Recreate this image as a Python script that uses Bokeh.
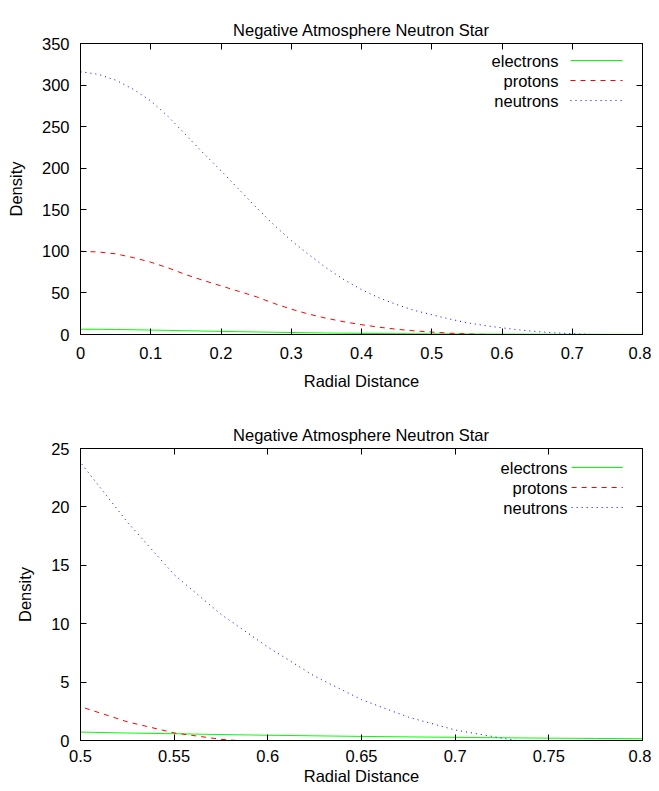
from bokeh.plotting import figure
from bokeh.layouts import column
from bokeh.models import (Range1d, LinearAxis, FixedTicker, PrintfTickFormatter,
                          CustomJSTickFormatter, Label)
from bokeh.embed import file_html
from bokeh.resources import INLINE

# ---- data ----
radius = [0.0, 0.025, 0.05, 0.075, 0.1, 0.125, 0.15, 0.175, 0.2, 0.225, 0.25,
          0.275, 0.3, 0.325, 0.35, 0.375, 0.4, 0.425, 0.45, 0.475, 0.5, 0.525,
          0.55, 0.575, 0.6, 0.625, 0.65, 0.675, 0.7, 0.725, 0.75, 0.775, 0.8]
electrons = [6.3, 6.25, 6.05, 5.75, 5.35, 4.95, 4.55, 4.15, 3.75, 3.4, 3.05,
             2.7, 2.4, 2.1, 1.82, 1.57, 1.35, 1.17, 1.0, 0.85, 0.72, 0.64,
             0.58, 0.51, 0.45, 0.4, 0.35, 0.31, 0.27, 0.235, 0.2, 0.175, 0.15]
protons = [100, 99.3, 97, 92.5, 87, 80, 72, 65, 58.5, 52, 45.5,
           37.5, 30.5, 24.5, 19.5, 15.3, 11.8, 8.8, 6.3, 4.4, 2.9, 1.6,
           0.65, 0.1, -0.2, -0.4, -0.6, -0.7, -0.8, -0.9, -1.0, -1.0, -1.0]
neutrons = [316, 313, 306, 295, 281, 262, 240, 218, 197, 175, 153,
            132, 113, 96, 80, 66, 54, 44, 36, 29, 23.8, 18.7,
            14.2, 10.8, 8.0, 5.5, 3.5, 2.0, 0.9, 0.2, -0.4, -0.8, -1.0]

series_names = ["electrons", "protons", "neutrons"]
series_colors = ["#00ff00", "#ff0000", "#0000ff"]
series_dashes = ["solid", "5 5", "1 4"]

top_xticks = [0, 0.1, 0.2, 0.3, 0.4, 0.5, 0.6, 0.7, 0.8]
top_yticks = [0, 50, 100, 150, 200, 250, 300, 350]
bot_xticks = [0.5, 0.55, 0.6, 0.65, 0.7, 0.75, 0.8]
bot_yticks = [0, 5, 10, 15, 20, 25]

title_text = "Negative Atmosphere Neutron Star"
x_label = "Radial Distance"
y_label = "Density"

FONT = "Liberation Sans"
FS = "16.5px"
WIDTH = 651
MB_RIGHT = 9


def style_axis(ax, ticks, show_labels=True):
    ax.ticker = FixedTicker(ticks=ticks)
    if show_labels:
        ax.formatter = PrintfTickFormatter(format="%g")
        ax.major_label_text_font_size = FS
    else:
        ax.formatter = CustomJSTickFormatter(code="return ''")
        ax.major_label_standoff = 0
        ax.major_label_text_font_size = "10px"
    ax.major_tick_in = 6
    ax.major_tick_out = 0
    ax.minor_tick_line_color = None
    ax.major_tick_line_color = "black"
    ax.axis_line_color = "black"
    ax.major_label_text_font = FONT
    ax.major_label_text_color = "black"
    ax.axis_label_text_font = FONT
    ax.axis_label_text_font_size = FS
    ax.axis_label_text_font_style = "normal"
    ax.axis_label_text_color = "black"


def make_panel(height, xr, yr, xticks, yticks, mb_left, mb_top, mb_bottom,
               legend_right, legend_rows, title_standoff, xl_standoff, xa_standoff):
    p = figure(width=WIDTH, height=height, output_backend="svg",
               toolbar_location=None, x_range=Range1d(*xr), y_range=Range1d(*yr),
               min_border_left=mb_left, min_border_right=MB_RIGHT,
               min_border_top=mb_top, min_border_bottom=mb_bottom)
    p.xgrid.visible = False
    p.ygrid.visible = False
    p.outline_line_color = "black"
    p.outline_line_alpha = 1.0
    p.background_fill_color = "white"
    p.border_fill_color = "white"

    style_axis(p.xaxis[0], xticks)
    style_axis(p.yaxis[0], yticks)
    p.xaxis[0].axis_label = x_label
    p.yaxis[0].axis_label = y_label
    p.xaxis[0].major_label_standoff = xl_standoff
    p.xaxis[0].axis_label_standoff = xa_standoff
    p.yaxis[0].major_label_standoff = 11
    p.yaxis[0].axis_label_standoff = 14

    # mirrored top axis (gnuplot style); its label carries the chart title
    top_ax = LinearAxis()
    style_axis(top_ax, xticks, show_labels=False)
    top_ax.axis_label = title_text
    top_ax.axis_label_standoff = title_standoff
    p.add_layout(top_ax, "above")
    right_ax = LinearAxis()
    style_axis(right_ax, yticks, show_labels=False)
    p.add_layout(right_ax, "right")

    for name, ys, col, dash in zip(series_names, [electrons, protons, neutrons],
                                   series_colors, series_dashes):
        p.line(radius, ys, line_color=col, line_width=1, line_dash=dash)

    frame_w = WIDTH - mb_left - MB_RIGHT
    frame_h = height - mb_top - mb_bottom

    # legend in gnuplot style: right-aligned label, then the line sample
    sx = (xr[1] - xr[0]) / frame_w
    sy = (yr[1] - yr[0]) / frame_h
    for name, col, dash, row in zip(series_names, series_colors, series_dashes, legend_rows):
        yy = frame_h - row
        p.add_layout(Label(x=legend_right, y=yy, x_units="screen", y_units="screen",
                           text=name, text_align="right", text_baseline="middle",
                           text_font=FONT, text_font_size=FS, text_color="black"))
        xa = xr[0] + (legend_right + 12) * sx
        xb = xr[0] + (legend_right + 64) * sx
        yd = yr[0] + yy * sy
        p.line([xa, xb], [yd, yd], line_color=col, line_width=1, line_dash=dash)
    return p


p1 = make_panel(404, (0, 0.8), (0, 350), top_xticks, top_yticks,
                80, 43, 70, 478, [17, 37, 57], 5, 12, 10)
p2 = make_panel(387, (0.5, 0.8), (0, 25), bot_xticks, bot_yticks,
                71, 44, 51, 487, [19, 39, 59], 5, 9, 2)

layout = column(p1, p2, spacing=0)
open("out.html", "w").write(file_html(layout, INLINE))
